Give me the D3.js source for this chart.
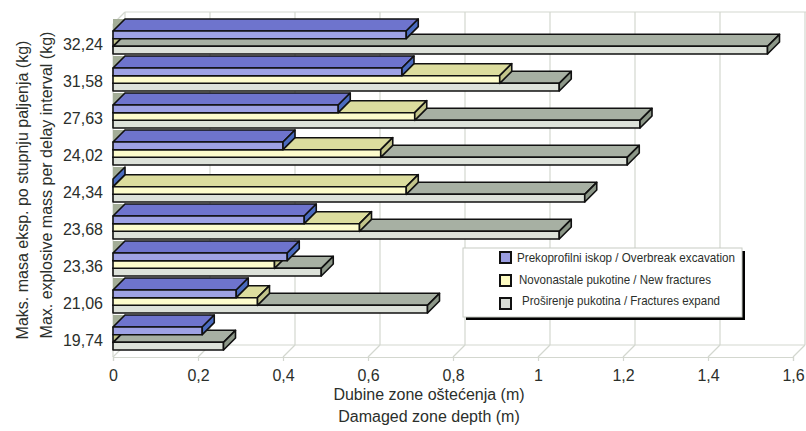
<!DOCTYPE html>
<html>
<head>
<meta charset="utf-8">
<script src="https://cdn.jsdelivr.net/npm/d3@7"></script>
<style>
  html, body { margin: 0; padding: 0; background: #fff; }
  svg { display: block; }
  text { font-family: "Liberation Sans", Arial, sans-serif; fill: #2b2f2b; }
</style>
</head>
<body>
<svg id="chart" width="806" height="431"></svg>
<script>
// ---- data ----
const categories = ["32,24","31,58","27,63","24,02","24,34","23,68","23,36","21,06","19,74"];
const overbreak = [0.69, 0.68, 0.53, 0.40, 0, 0.45, 0.41, 0.29, 0.21];
const newFractures = [0, 0.91, 0.71, 0.63, 0.69, 0.58, 0.38, 0.34, 0];
const fracturesExpand = [1.54, 1.05, 1.24, 1.21, 1.11, 1.05, 0.49, 0.74, 0.26];
const seriesNames = ["Prekoprofilni iskop / Overbreak excavation", "Novonastale pukotine / New fractures", " Proširenje pukotina / Fractures expand"];
const xTicks = [0, 0.2, 0.4, 0.6, 0.8, 1, 1.2, 1.4, 1.6];
const xTickLabels = ["0", "0,2", "0,4", "0,6", "0,8", "1", "1,2", "1,4", "1,6"];
const yTitle1 = "Maks. masa eksp. po stupnju paljenja (kg)";
const yTitle2 = "Max. explosive mass per delay interval (kg)";
const xTitle1 = "Dubine zone oštećenja (m)";
const xTitle2 = "Damaged zone depth (m)";

const series = [
  { key: "s0", values: overbreak, front: "#9ea2e4", top: "#6e74cd", side: "#4a6bbf", sw: "#9a9de0" },
  { key: "s1", values: newFractures, front: "#fdfccc", top: "#dcdd9e", side: "#c3c58b", sw: "#fdfbc2" },
  { key: "s2", values: fracturesExpand, front: "#dde2da", top: "#a7b0a3", side: "#8c9788", sw: "#d8dcd5" }
];

// ---- layout ----
const DX = 12, DY = 12;
const svg = d3.select("#chart");
const x = d3.scaleLinear().domain([0, 1.6]).range([113, 793]);
const y = d3.scaleBand().domain(categories).range([24, 357]).paddingInner(0.38).paddingOuter(0.19);
const ys = d3.scaleBand().domain(series.map(s => s.key)).range([0, y.bandwidth()]);
const yTop = 24, yBot = 357;
const grid = "#d3d7cf";

// back wall
svg.append("rect").attr("x", x(0) + DX).attr("y", yTop - DY)
  .attr("width", x(1.6) - x(0)).attr("height", yBot - yTop).attr("fill", "#fff");
svg.append("line").attr("x1", x(0) + DX).attr("x2", 806).attr("y1", yTop - DY).attr("y2", yTop - DY)
  .attr("stroke", grid).attr("stroke-width", 1.2);
svg.selectAll("line.vgrid").data(xTicks).join("line").attr("class", "vgrid")
  .attr("x1", d => x(d) + DX).attr("x2", d => x(d) + DX)
  .attr("y1", yTop - DY).attr("y2", yBot - DY)
  .attr("stroke", grid).attr("stroke-width", 1.2);
// floor
svg.append("line").attr("x1", x(0) + DX).attr("x2", x(1.6) + DX).attr("y1", yBot - DY).attr("y2", yBot - DY)
  .attr("stroke", grid).attr("stroke-width", 1.2);
svg.selectAll("line.fgrid").data(xTicks).join("line").attr("class", "fgrid")
  .attr("x1", d => x(d)).attr("x2", d => x(d) + DX)
  .attr("y1", yBot).attr("y2", yBot - DY)
  .attr("stroke", grid).attr("stroke-width", 1.2);
// left wall front edge
svg.append("line").attr("x1", x(0)).attr("x2", x(0)).attr("y1", yTop).attr("y2", yBot)
  .attr("stroke", grid).attr("stroke-width", 1.2);
svg.append("line").attr("x1", x(0)).attr("x2", x(0) + DX).attr("y1", yTop).attr("y2", yTop - DY)
  .attr("stroke", grid).attr("stroke-width", 1.2);

// x axis (labels + small ticks)
const xAxis = d3.axisBottom(x).tickValues(xTicks).tickSize(4).tickPadding(9)
  .tickFormat((d, i) => xTickLabels[i]);
const gx = svg.append("g").attr("transform", `translate(0,${yBot})`).call(xAxis);
gx.select(".domain").attr("stroke", grid).attr("stroke-width", 1.2);
gx.selectAll(".tick line").attr("stroke", grid).attr("stroke-width", 1.2);
gx.selectAll(".tick text").attr("font-size", 16).attr("fill", "#2b2f2b")
  .style("font-family", '"Liberation Sans", Arial, sans-serif');

// y axis labels
const yAxis = d3.axisLeft(y).tickSize(0).tickPadding(10);
const gy = svg.append("g").attr("transform", `translate(${x(0)},0)`).call(yAxis);
gy.select(".domain").remove();
gy.selectAll(".tick text").attr("font-size", 16).attr("fill", "#2b2f2b").attr("dy", "0.45em")
  .style("font-family", '"Liberation Sans", Arial, sans-serif');

// left wall slivers at each category top
svg.selectAll("path.wall").data(categories).join("path").attr("class", "wall")
  .attr("d", c => {
    const t = y(c);
    return `M${x(0)},${t}L${x(0)},${t - DY}L${x(0) + DX},${t - DY}Z`;
  })
  .attr("fill", "#a3ad97").attr("stroke", "none");

// bars, painted bottom to top
const bars = [];
categories.forEach((c, i) => {
  series.forEach(s => bars.push({ c, i, s, v: s.values[i] }));
});
bars.sort((a, b) => (y(b.c) + ys(b.s.key)) - (y(a.c) + ys(a.s.key)));

const barG = svg.append("g");
const h = ys.bandwidth();
bars.forEach(b => {
  const x0 = x(0), x1 = x(b.v);
  const t = y(b.c) + ys(b.s.key), bt = t + h;
  const g = barG.append("g").attr("stroke", "#111").attr("stroke-width", 1.6).attr("stroke-linejoin", "round");
  if (x1 - x0 > 0.5) {
    g.append("path").attr("d", `M${x0},${t}L${x0 + DX},${t - DY}L${x1 + DX},${t - DY}L${x1},${t}Z`).attr("fill", b.s.top);
    g.append("path").attr("d", `M${x0},${t}L${x1},${t}L${x1},${bt}L${x0},${bt}Z`).attr("fill", b.s.front);
  }
  g.append("path").attr("d", `M${x1},${t}L${x1 + DX},${t - DY}L${x1 + DX},${bt - DY}L${x1},${bt}Z`).attr("fill", b.s.side);
});

// legend
const lg = svg.append("g");
lg.append("rect").attr("x", 466).attr("y", 251).attr("width", 279).attr("height", 69).attr("fill", "#000");
lg.append("rect").attr("x", 463).attr("y", 248).attr("width", 279).attr("height", 69)
  .attr("fill", "#fff").attr("stroke", "#c8ccc4").attr("stroke-width", 1);
const legX = [517, 519, 522];
const legY = [262, 284, 305];
const legLen = [218, 192, 198];
const swY = [252, 275, 298];
series.forEach((s, i) => {
  lg.append("rect").attr("x", 500).attr("y", swY[i]).attr("width", 11).attr("height", 11)
    .attr("fill", s.sw).attr("stroke", "#111").attr("stroke-width", 2);
  lg.append("text").attr("x", legX[i]).attr("y", legY[i]).attr("font-size", 13)
    .attr("textLength", legLen[i]).attr("lengthAdjust", "spacingAndGlyphs")
    .attr("fill", "#222").text(seriesNames[i].trim());
});

// axis titles
svg.append("text").attr("x", 429).attr("y", 400).attr("text-anchor", "middle").attr("font-size", 16).text(xTitle1);
svg.append("text").attr("x", 429).attr("y", 422).attr("text-anchor", "middle").attr("font-size", 16).text(xTitle2);
svg.append("text").attr("transform", "translate(28,190) rotate(-90)").attr("text-anchor", "middle").attr("font-size", 16).text(yTitle1);
svg.append("text").attr("transform", "translate(52,185) rotate(-90)").attr("text-anchor", "middle").attr("font-size", 16).text(yTitle2);
</script>
</body>
</html>
